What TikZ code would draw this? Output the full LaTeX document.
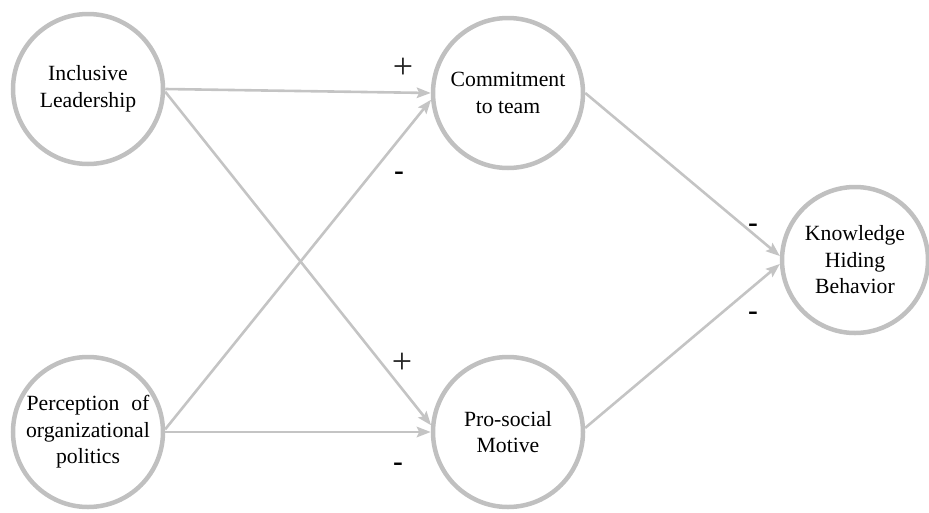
\documentclass[tikz,border=0pt]{standalone}
\usepackage{fontspec}
\setmainfont{Liberation Serif}
\newfontfamily\labelfont{Liberation Serif}
\newfontfamily\signfont{Liberation Sans}
\usetikzlibrary{arrows.meta}
\definecolor{cgray}{RGB}{192,192,192}
\definecolor{agray}{RGB}{196,196,196}
\tikzset{
  construct/.style={circle, draw=cgray, line width=4.5pt, minimum size=150pt, inner sep=0pt,
    align=center, text=black, font=\labelfont\fontsize{21.7}{26.5}\selectfont},
  link/.style={draw=agray, line width=2.6pt, -{Stealth[length=14pt,width=10.5pt,inset=2.5pt]}},
  plus/.style={anchor=base, inner sep=0pt, text=black!85, font=\labelfont\fontsize{36}{40}\selectfont},
  minus/.style={anchor=base, inner sep=0pt, text=black, font=\signfont\fontsize{31}{34}\selectfont}
}
\begin{document}
\begin{tikzpicture}[x=1pt,y=-1pt]
\useasboundingbox (0,0) rectangle (929,512);
\node[construct] (IL) at (88,89) {Inclusive\\Leadership};
\node[construct] (CT) at (508,93) {Commitment\\to team};
\node[construct] (PO) at (88,432) {Perception\hspace{0.55em}of\\organizational\\politics};
\node[construct] (PS) at (508,432) {Pro-social\\Motive};
\node[construct, minimum size=146pt] (KH) at (855,260) {Knowledge\\Hiding\\Behavior};

\draw[link] (IL.east) -- (CT.west);
\draw[link] (IL.-2) -- (PS.175);
\draw[link] (PO.2) -- (CT.185);
\draw[link] (PO.east) -- (PS.west);
\draw[link] (CT.east) -- (KH.177);
\draw[link] (PS.3) -- (KH.183);

\node[plus] (p1) at (403,78.1) {+};
\node[plus] (p2) at (402,373.1) {+};
\node[minus] (m1) at (399,181.5) {-};
\node[minus] (m2) at (398,472.5) {-};
\node[minus] (m3) at (753,233.5) {-};
\node[minus] (m4) at (753,321.5) {-};
\end{tikzpicture}
\end{document}
